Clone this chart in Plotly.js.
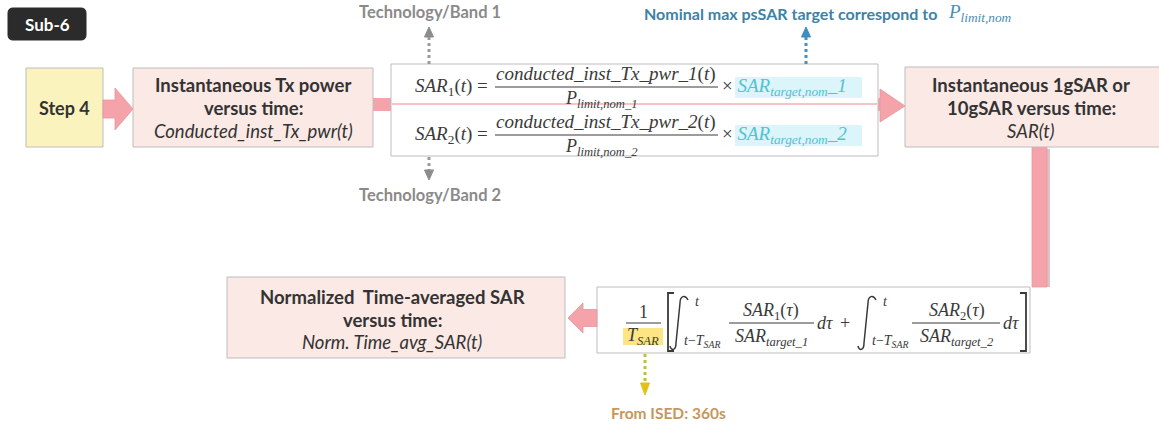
<!DOCTYPE html>
<html><head><meta charset="utf-8">
<script src="https://cdn.plot.ly/plotly-3.0.1.min.js"></script>
<style>html,body{margin:0;padding:0;background:#fff}#chart{width:1159px;height:425px}</style>
</head><body><div id="chart"></div>
<script>
// ---- content ----
const badgeLabel = "Sub-6";
const stepLabel = "Step 4";
const txPowerLines = ["Instantaneous Tx power", "versus time:", "Conducted_inst_Tx_pwr(t)"];
const sarLines = ["Instantaneous 1gSAR or", "10gSAR versus time:", "SAR(t)"];
const normLines = ["Normalized  Time-averaged SAR", "versus time:", "Norm. Time_avg_SAR(t)"];
const bandLabels = ["Technology/Band 1", "Technology/Band 2"];
const bandIdx = ["1", "2"];
const targetNote = "Nominal max psSAR target correspond to";
const isedNote = "From ISED: 360s";

// ---- styles ----
const SANS = "Lato, 'Noto Sans', sans-serif";
const SERIF = "'Liberation Serif', 'DejaVu Serif', serif";
const TXT = "#333333", MATH = "#3a3a3a", BORDER = "#bdbdbd";
const PINK = "#f4a3aa", PINKBOX = "#fbe9e5", YEL = "#fbf3bd";

const shapes = [], ann = [];
function rect(x0, y0, x1, y1, fill, line, lw) {
  shapes.push({type: 'rect', xref: 'x', yref: 'y', x0, y0, x1, y1, fillcolor: fill,
    line: {color: line || fill, width: lw === undefined ? 1 : lw}});
}
function path(d, fill, line, lw, dash) {
  shapes.push({type: 'path', xref: 'x', yref: 'y', path: d, fillcolor: fill || 'rgba(0,0,0,0)',
    line: {color: line || 'rgba(0,0,0,0)', width: lw || 0, dash: dash || 'solid'}});
}
function seg(x0, y0, x1, y1, color, w, dash) {
  shapes.push({type: 'line', xref: 'x', yref: 'y', x0, y0, x1, y1, line: {color, width: w, dash: dash || 'solid'}});
}
function T(x, y, text, size, color, family, xanchor) {
  ann.push({x, y, xref: 'x', yref: 'y', text, showarrow: false, xanchor: xanchor || 'center', yanchor: 'middle',
    font: {size, color, family}});
}
function hArrow(xs, xt, yc, sh, hh, hl, fill) {
  const b = xt - hl * Math.sign(xt - xs);
  path(`M${xs},${yc - sh} L${b},${yc - sh} L${b},${yc - hh} L${xt},${yc} L${b},${yc + hh} L${b},${yc + sh} L${xs},${yc + sh} Z`, fill, '#e8949c', 0.8);
}
function dotted(x, y0, y1, tipY, color, headColor) {
  seg(x, y0, x, y1, color, 3, 'dot');
  path(`M${x - 4.5},${y1} L${x + 4.5},${y1} L${x},${tipY} Z`, headColor, headColor, 1);
}

// ---- connector under the formula box ----
path(`M373,98 L882,98 L882,111 L373,111 Z`, PINK);
// vertical bar + shadow
rect(1047, 149, 1050, 287, '#d9c4c6', '#d9c4c6', 0);
rect(1032, 147, 1047, 287, PINK, '#ee98a0', 0.8);

// ---- boxes ----
path('M13,8 L81,8 Q86,8 86,13 L86,35 Q86,40 81,40 L13,40 Q8,40 8,35 L8,13 Q8,8 13,8 Z', '#2b2b2b', '#2b2b2b', 1);
rect(26, 68, 103, 147, YEL, BORDER);
rect(133, 68, 373, 147, PINKBOX, BORDER);
rect(391, 64, 878, 156, '#ffffff', BORDER);
rect(905, 67, 1165, 147, PINKBOX, BORDER);
rect(597, 287, 1030, 353, '#ffffff', BORDER);
rect(227, 277, 565, 358, PINKBOX, BORDER);

// thin pink line through formula box
seg(392, 104, 877, 104, '#f6c3c7', 2);

// arrows
hArrow(103, 133, 109, 9, 21, 18, PINK);
path(`M880,89 L905,106 L880,122 Z`, PINK, '#e8949c', 0.8);
hArrow(597, 568, 318, 8.5, 15, 15, PINK);

// ---- box texts ----
T(47, 24, `<b>${badgeLabel}</b>`, 17, '#ffffff', SANS);
T(64, 108, `<b>${stepLabel}</b>`, 18, TXT, SANS);
const boxYs = [85, 108, 131];
[[txPowerLines, 253], [sarLines, 1031]].forEach(([lines, cx]) => {
  lines.forEach((s, i) => T(cx, boxYs[i], i < 2 ? `<b>${s}</b>` : `<i>${s}</i>`, 18.5, TXT, SANS));
});
const normYs = [297, 320, 342];
normLines.forEach((s, i) => T(392, normYs[i], i < 2 ? `<b>${s}</b>` : `<i>${s}</i>`, 18.5, TXT, SANS));

// ---- formula 1 (two bands) ----
bandIdx.forEach((n, i) => {
  const dy = i * 48;
  rect(735, 77 + dy, 862, 98 + dy, 'rgba(190,236,246,0.55)', 'rgba(0,0,0,0)', 0);
  T(490, 87 + dy, `<i>SAR</i><sub>${n}</sub>(<i>t</i>) =`, 19, MATH, SERIF, 'right');
  T(606, 74 + dy, `<i>conducted_inst_Tx_pwr_${n}</i>(<i>t</i>)`, 19, MATH, SERIF);
  seg(495, 87 + dy, 718, 87 + dy, MATH, 1.2);
  T(601, 99 + dy, `<i>P</i><sub><i>limit,nom_${n}</i></sub>`, 18, MATH, SERIF);
  T(720, 87 + dy, `× <span style="color:#56c0d2"><i>SAR</i><sub><i>target,nom</i></sub><i>_${n}</i></span>`, 19, MATH, SERIF, 'left');
});

// ---- formula 2 (time average) ----
rect(623, 328, 663, 345, 'rgba(253,224,110,0.85)', 'rgba(0,0,0,0)', 0);
T(643, 312, '1', 18, MATH, SERIF);
seg(626, 323, 661, 323, MATH, 1.2);
T(643, 336, `<i>T</i><sub><i>SAR</i></sub>`, 18, MATH, SERIF);
path('M674,293 L668,293 L668,351 L674,351', null, MATH, 1.8);
path('M1020,293 L1026,293 L1026,351 L1020,351', null, MATH, 1.8);
[0, 188].forEach((sx, k) => {
  path(`M${688 + sx},300 C${685 + sx},294 ${680 + sx},296 ${680 + sx},303 L${676 + sx},343 C${676 + sx},351 ${671 + sx},351 ${670 + sx},346`, null, MATH, 1.5);
  T(693 + sx, 301, '<i>t</i>', 14, MATH, SERIF, 'left');
  T(682 + sx, 341, `<i>t</i>−<i>T</i><sub><i>SAR</i></sub>`, 14, MATH, SERIF, 'left');
  const cx = k === 0 ? 771 : 957, x0 = k === 0 ? 729 : 912, x1 = k === 0 ? 814 : 1000;
  T(cx, 311, `<i>SAR</i><sub>${bandIdx[k]}</sub>(<i>τ</i>)`, 18, MATH, SERIF);
  seg(x0, 323, x1, 323, MATH, 1.2);
  T(cx, 337, `<i>SAR</i><sub><i>target_${bandIdx[k]}</i></sub>`, 18, MATH, SERIF);
  T(x1 + 1, 323, '<i>dτ</i>', 18, MATH, SERIF, 'left');
});
T(845, 323, '+', 18, MATH, SERIF);

// ---- side notes with dotted arrows ----
dotted(429, 64, 37, 27, '#9a9a9a', '#8c8c8c');
T(430, 12, `<b>${bandLabels[0]}</b>`, 16.5, '#8a8a8a', SANS);
dotted(429, 157, 170, 180, '#9a9a9a', '#8c8c8c');
T(430, 195, `<b>${bandLabels[1]}</b>`, 16.5, '#8a8a8a', SANS);
dotted(806, 64, 37, 27, '#4a90b8', '#3a8fc0');
T(642, 13, `<b>${targetNote}</b>`, 16, '#3d82a6', SANS, 'left');
T(946, 13, `<i>P</i><sub><i>limit,nom</i></sub>`, 19, '#4a8cb5', SERIF, 'left');
dotted(645, 354, 383, 395, '#b8bf45', '#e2c21a');
T(668, 413, `<b>${isedNote}</b>`, 15.5, '#c8965a', SANS);

const layout = {
  width: 1159, height: 425, margin: {l: 0, r: 0, t: 0, b: 0},
  paper_bgcolor: '#ffffff', plot_bgcolor: '#ffffff', showlegend: false,
  xaxis: {range: [0, 1159], autorange: false, visible: false, fixedrange: true},
  yaxis: {range: [425, 0], autorange: false, visible: false, fixedrange: true},
  shapes, annotations: ann, font: {family: SANS, color: TXT}
};
Plotly.newPlot('chart', [], layout, {staticPlot: true, displayModeBar: false});
</script></body></html>
